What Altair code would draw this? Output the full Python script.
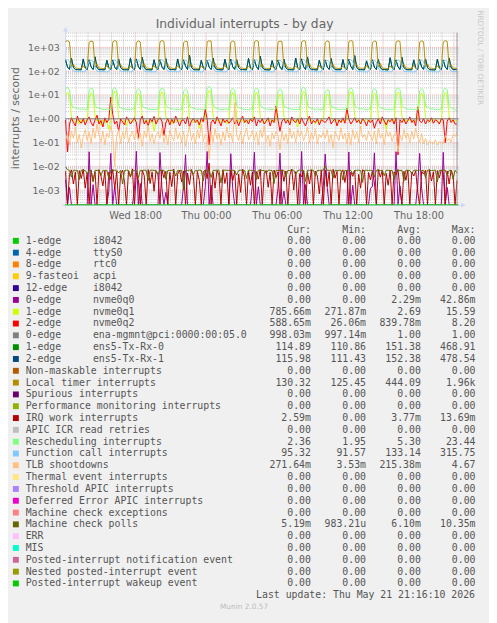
import altair as alt
import pandas as pd

TITLE = "Individual interrupts - by day"
Y_TITLE = "interrupts / second"
WATERMARK = "RRDTOOL / TOBI OETIKER"
LAST_UPDATE = "Last update: Thu May 21 21:16:10 2026"
FOOTER = "Munin 2.0.57"
START = "2026-05-20 12:06"
STEP = "10min"
NOW = "2026-05-21 21:16"
X_LABEL_TIMES = ["2026-05-20 18:00", "2026-05-21 00:00", "2026-05-21 06:00",
                 "2026-05-21 12:00", "2026-05-21 18:00"]
Y_TICKS = [1e-3, 1e-2, 1e-1, 1e0, 1e1, 1e2, 1e3]

# ---------------- legend table ----------------
LEG_A = ["1-edge", "4-edge", "8-edge", "9-fasteoi", "12-edge", "0-edge", "1-edge", "2-edge",
         "0-edge", "1-edge", "2-edge", "Non-maskable interrupts", "Local timer interrupts",
         "Spurious interrupts", "Performance monitoring interrupts", "IRQ work interrupts",
         "APIC ICR read retries", "Rescheduling interrupts", "Function call interrupts",
         "TLB shootdowns", "Thermal event interrupts", "Threshold APIC interrupts",
         "Deferred Error APIC interrupts", "Machine check exceptions", "Machine check polls",
         "ERR", "MIS", "Posted-interrupt notification event", "Nested posted-interrupt event",
         "Posted-interrupt wakeup event"]
LEG_B = ["i8042", "ttyS0", "rtc0", "acpi", "\u00a0i8042", "nvme0q0", "nvme0q1", "nvme0q2",
         "ena-mgmnt@pci:0000:00:05.0", "ens5-Tx-Rx-0", "ens5-Tx-Rx-1"] + [""] * 19
CUR = ["0.00", "0.00", "0.00", "0.00", "0.00", "0.00", "785.66m", "588.65m", "998.03m", "114.89",
       "115.98", "0.00", "130.32", "0.00", "0.00", "2.59m", "0.00", "2.36", "95.32", "271.64m",
       "0.00", "0.00", "0.00", "0.00", "5.19m", "0.00", "0.00", "0.00", "0.00", "0.00"]
MIN = ["0.00", "0.00", "0.00", "0.00", "0.00", "0.00", "271.87m", "26.06m", "997.14m", "110.86",
       "111.43", "0.00", "125.45", "0.00", "0.00", "0.00", "0.00", "1.95", "91.57", "3.53m",
       "0.00", "0.00", "0.00", "0.00", "983.21u", "0.00", "0.00", "0.00", "0.00", "0.00"]
AVG = ["0.00", "0.00", "0.00", "0.00", "0.00", "2.29m", "2.69", "839.78m", "1.00", "151.38",
       "152.38", "0.00", "444.09", "0.00", "0.00", "3.77m", "0.00", "5.30", "133.14", "215.38m",
       "0.00", "0.00", "0.00", "0.00", "6.10m", "0.00", "0.00", "0.00", "0.00", "0.00"]
MAX = ["0.00", "0.00", "0.00", "0.00", "0.00", "42.86m", "15.59", "8.20", "1.00", "468.91",
       "478.54", "0.00", "1.96k", "0.00", "0.00", "13.69m", "0.00", "23.44", "315.75", "4.67",
       "0.00", "0.00", "0.00", "0.00", "10.35m", "0.00", "0.00", "0.00", "0.00", "0.00"]
COLORS = ["#00CC00", "#0066B3", "#FF8000", "#FFCC00", "#330099", "#990099", "#CCFF00", "#FF0000",
          "#808080", "#008F00", "#00487D", "#B35A00", "#B38F00", "#6B006B", "#8FB300", "#B30000",
          "#BEBEBE", "#80FF80", "#80C9FF", "#FFC080", "#FFE680", "#AA80FF", "#EE00CC", "#FF8080",
          "#666600", "#FFBFFF", "#00FFCC", "#CC6699", "#999900", "#00CC00"]

# ---------------- series (10 minute samples from START) ----------------
NVME0Q0 = [
    0.0028, 0.0, 0.0013, 0.0, 0.0, 0.0, 0.0, 0.0, 0.0, 0.0, 0.0, 0.0,
    0.041, 0.0, 0.0017, 0.0, 0.0, 0.0, 0.0, 0.0, 0.0, 0.0, 0.0009, 0.035,
    0.0, 0.0014, 0.0, 0.0, 0.0, 0.0, 0.0, 0.0, 0.0, 0.0, 0.0, 0.0011,
    0.043, 0.0, 0.0019, 0.0, 0.0, 0.0, 0.0, 0.0, 0.0, 0.0, 0.0, 0.0,
    0.038, 0.0012, 0.0, 0.0008, 0.0, 0.0, 0.0, 0.0, 0.0, 0.0, 0.0, 0.0,
    0.0015, 0.031, 0.0, 0.0, 0.0, 0.0, 0.0, 0.0, 0.0, 0.0, 0.0, 0.0013,
    0.042, 0.0, 0.0016, 0.0, 0.0, 0.0, 0.0, 0.0, 0.0, 0.0, 0.0, 0.0,
    0.034, 0.0011, 0.0, 0.0, 0.0, 0.0, 0.0, 0.0, 0.0, 0.0, 0.0, 0.0018,
    0.039, 0.0, 0.0014, 0.0, 0.0, 0.0, 0.0, 0.0, 0.0, 0.0, 0.0, 0.0,
    0.0012, 0.036, 0.0, 0.0009, 0.0, 0.0, 0.0, 0.0, 0.0, 0.0, 0.0, 0.0,
    0.042, 0.0, 0.0017, 0.0, 0.0, 0.0, 0.0, 0.0, 0.0, 0.0, 0.0, 0.0014,
    0.033, 0.0013, 0.0, 0.0, 0.0, 0.0, 0.0, 0.0, 0.0, 0.0, 0.0, 0.0,
    0.040, 0.0, 0.0016, 0.0, 0.0, 0.0, 0.0, 0.0, 0.0, 0.0, 0.0, 0.0012,
    0.0014, 0.037, 0.0, 0.0, 0.0, 0.0, 0.0, 0.0, 0.0, 0.0, 0.0, 0.0,
    0.041, 0.0, 0.0015, 0.0, 0.0, 0.0, 0.0, 0.0, 0.0, 0.0, 0.0, 0.0017,
    0.035, 0.0012, 0.0, 0.0, 0.0, 0.0, 0.0, 0.0, 0.0, 0.0, 0.0, 0.0,
    0.039, 0.0, 0.0013, 0.0, 0.0, 0.0, 0.0, 0.0]
NVME0Q1 = [
    9.5, 13.0, 10.5, 1.2, 0.85, 0.7, 0.95, 0.6, 0.9, 0.75, 0.85, 0.8,
    8.0, 12.0, 9.8, 1.3, 0.8, 0.95, 0.55, 0.9, 0.7, 0.85, 0.35, 0.9,
    9.0, 14.5, 11.0, 1.1, 0.9, 0.75, 0.9, 0.5, 0.95, 0.8, 0.7, 0.85,
    7.5, 11.5, 9.5, 1.25, 0.7, 0.9, 0.8, 0.65, 0.9, 0.3, 0.85, 0.9,
    8.5, 13.5, 10.0, 1.2, 0.9, 0.85, 0.6, 0.95, 0.75, 0.9, 0.8, 0.85,
    7.0, 10.5, 8.8, 1.15, 0.8, 0.7, 0.9, 0.85, 0.4, 0.9, 0.75, 0.9,
    10.0, 15.6, 12.0, 1.3, 0.9, 0.8, 0.95, 0.7, 0.9, 0.85, 0.6, 0.8,
    8.0, 12.5, 10.2, 1.2, 0.75, 0.9, 0.8, 0.9, 0.65, 0.9, 0.85, 0.9,
    8.5, 13.0, 9.5, 1.1, 0.9, 0.6, 0.9, 0.8, 0.95, 0.7, 0.9, 0.85,
    7.5, 11.0, 9.0, 1.25, 0.85, 0.9, 0.7, 0.95, 0.8, 0.9, 0.45, 0.9,
    9.0, 14.0, 11.5, 1.2, 0.8, 0.9, 0.85, 0.6, 0.9, 0.8, 0.9, 0.85,
    7.0, 10.8, 9.2, 1.15, 0.9, 0.75, 0.9, 0.85, 0.7, 0.9, 0.8, 0.9,
    8.5, 13.5, 10.8, 1.3, 0.85, 0.9, 0.6, 0.9, 0.85, 0.95, 0.75, 0.85,
    8.0, 12.0, 9.6, 1.2, 0.9, 0.8, 0.9, 0.35, 0.9, 0.85, 0.9, 0.8,
    8.5, 13.2, 10.4, 1.25, 0.75, 0.9, 0.85, 0.9, 0.8, 0.7, 0.9, 0.9,
    7.5, 11.8, 9.4, 1.15, 0.9, 0.85, 0.75, 0.9, 0.95, 0.85, 0.65, 0.85,
    8.0, 12.6, 10.0, 1.2, 0.9, 0.8, 0.85, 0.79]
NVME0Q2 = [
    0.9, 0.04, 0.6, 1.1, 0.7, 0.5, 1.3, 0.8, 0.65, 1.0, 0.55, 0.9,
    1.2, 0.7, 0.5, 0.9, 1.4, 0.6, 0.85, 0.45, 1.1, 0.7, 0.95, 8.2,
    1.5, 0.6, 0.8, 0.3, 1.0, 0.75, 0.55, 1.2, 0.9, 0.6, 0.8, 1.1,
    0.7, 0.15, 0.9, 1.3, 0.6, 0.85, 0.5, 1.0, 0.75, 1.25, 0.6, 0.9,
    1.1, 0.8, 0.2, 0.7, 1.0, 0.55, 0.95, 0.65, 1.3, 0.8, 0.5, 0.85,
    0.9, 0.6, 1.2, 0.45, 0.8, 1.0, 0.7, 0.9, 0.55, 1.1, 0.75, 2.5,
    1.0, 0.08, 0.7, 0.9, 0.6, 1.2, 0.8, 0.5, 1.0, 0.7, 0.9, 0.65,
    0.8, 1.1, 0.6, 0.9, 0.5, 0.85, 1.3, 0.7, 0.9, 0.6, 1.0, 0.75,
    1.2, 0.5, 0.9, 0.7, 1.0, 0.6, 0.8, 1.1, 0.5, 0.9, 0.7, 3.5,
    0.9, 0.3, 0.8, 1.0, 0.65, 0.9, 0.55, 1.2, 0.8, 0.7, 1.0, 0.6,
    1.1, 0.7, 0.5, 0.9, 1.3, 0.6, 0.85, 0.7, 1.0, 0.55, 0.9, 0.8,
    0.7, 0.9, 1.2, 0.6, 0.8, 1.0, 0.5, 0.9, 0.7, 1.1, 0.65, 2.8,
    1.0, 0.6, 0.8, 1.1, 0.7, 0.9, 0.6, 1.0, 0.8, 0.5, 0.9, 0.7,
    0.9, 0.4, 0.7, 1.0, 0.6, 1.2, 0.8, 0.55, 0.9, 0.75, 1.0, 0.6,
    1.1, 0.03, 0.9, 0.7, 1.0, 0.6, 0.85, 1.2, 0.7, 0.9, 0.5, 3.2,
    0.8, 0.7, 1.0, 0.6, 0.9, 0.75, 1.1, 0.65, 0.9, 0.8, 0.6, 1.0,
    0.9, 0.1, 0.8, 1.1, 0.7, 0.9, 0.6, 0.59]
ENA_MGMNT = [1.0]
ENS5_0 = [
    290, 148, 119, 360, 142, 117, 116, 115, 114, 320, 136, 116,
    310, 152, 118, 410, 139, 116, 117, 114, 115, 280, 141, 117,
    285, 146, 117, 330, 144, 118, 115, 115, 113, 350, 137, 116,
    320, 155, 119, 390, 140, 117, 116, 114, 115, 300, 139, 118,
    295, 149, 118, 340, 143, 116, 117, 116, 114, 325, 138, 117,
    305, 160, 117, 469, 145, 117, 115, 115, 113, 290, 140, 116,
    280, 147, 118, 355, 138, 118, 116, 114, 115, 310, 142, 117,
    315, 151, 119, 300, 141, 116, 117, 115, 114, 345, 137, 116,
    290, 156, 118, 425, 144, 117, 115, 113, 115, 275, 139, 118,
    300, 148, 117, 315, 140, 116, 116, 115, 114, 355, 143, 117,
    325, 153, 118, 395, 137, 117, 117, 114, 113, 285, 141, 116,
    285, 150, 119, 335, 142, 118, 115, 116, 115, 305, 138, 117,
    310, 158, 118, 445, 145, 116, 116, 115, 114, 270, 140, 118,
    295, 146, 117, 310, 139, 117, 117, 114, 113, 365, 142, 116,
    305, 152, 118, 380, 143, 118, 116, 115, 115, 295, 137, 117,
    290, 149, 119, 325, 141, 116, 115, 113, 114, 315, 139, 116,
    300, 151, 118, 350, 140, 117, 117, 115]
ENS5_1 = [
    305, 150, 120, 345, 145, 118, 117, 116, 115, 330, 138, 117,
    295, 149, 119, 395, 141, 117, 118, 115, 116, 290, 143, 118,
    300, 148, 118, 320, 146, 119, 116, 116, 114, 365, 139, 117,
    330, 158, 120, 375, 142, 118, 117, 115, 116, 305, 141, 119,
    310, 151, 119, 335, 145, 117, 118, 117, 115, 330, 140, 118,
    290, 163, 118, 478, 147, 118, 116, 116, 114, 285, 142, 117,
    295, 149, 119, 360, 140, 119, 117, 115, 116, 320, 144, 118,
    320, 154, 120, 310, 143, 117, 118, 116, 115, 340, 139, 117,
    305, 159, 119, 430, 146, 118, 116, 114, 116, 280, 141, 119,
    290, 150, 118, 325, 142, 117, 117, 116, 115, 360, 145, 118,
    335, 156, 119, 400, 139, 118, 118, 115, 114, 290, 143, 117,
    300, 152, 120, 345, 144, 119, 116, 117, 116, 310, 140, 118,
    315, 161, 119, 455, 147, 117, 117, 116, 115, 275, 142, 119,
    305, 148, 118, 315, 141, 118, 118, 115, 114, 370, 144, 117,
    290, 155, 119, 385, 145, 119, 117, 116, 116, 300, 139, 118,
    310, 151, 120, 330, 143, 117, 116, 114, 115, 320, 141, 117,
    295, 153, 119, 350, 142, 118, 118, 116]
LOCAL_TIMER = [
    1780, 1910, 1700, 150, 196, 136, 133, 131, 133, 168, 130, 137,
    1650, 1850, 1760, 148, 205, 135, 134, 130, 134, 172, 129, 136,
    1700, 1930, 1820, 155, 188, 133, 135, 132, 131, 165, 130, 138,
    1620, 1880, 1690, 150, 210, 136, 134, 131, 133, 175, 128, 135,
    1720, 1960, 1790, 158, 192, 134, 137, 130, 132, 170, 131, 139,
    1600, 1820, 1740, 149, 198, 133, 135, 131, 134, 163, 130, 136,
    1750, 1900, 1850, 153, 215, 135, 134, 129, 133, 178, 132, 137,
    1640, 1870, 1710, 151, 190, 134, 136, 130, 131, 166, 130, 138,
    1730, 1940, 1800, 156, 202, 132, 133, 131, 134, 171, 129, 135,
    1660, 1860, 1770, 150, 194, 135, 137, 132, 133, 169, 131, 136,
    1710, 1920, 1830, 154, 208, 133, 134, 130, 132, 174, 130, 139,
    1630, 1890, 1720, 149, 197, 136, 135, 131, 133, 164, 128, 137,
    1740, 1950, 1810, 157, 189, 134, 136, 132, 134, 172, 131, 136,
    1610, 1840, 1760, 151, 212, 135, 133, 130, 131, 167, 130, 138,
    1690, 1910, 1790, 155, 196, 133, 137, 131, 133, 176, 129, 135,
    1650, 1880, 1740, 150, 203, 134, 135, 130, 132, 168, 131, 137,
    1700, 1930, 1800, 152, 191, 133, 134, 130]
IRQ_WORK = [
    0.0062, 0.0, 0.0045, 0.0071, 0.0018, 0.0058, 0.0, 0.0066, 0.0031, 0.0075, 0.0012, 0.0053,
    0.0, 0.0068, 0.0024, 0.0059, 0.0, 0.0072, 0.0039, 0.0015, 0.0064, 0.0, 0.0057, 0.0028,
    0.0074, 0.0011, 0.0061, 0.0, 0.0049, 0.0069, 0.0021, 0.0, 0.0063, 0.0035, 0.0078, 0.0,
    0.0055, 0.0027, 0.0, 0.0067, 0.0041, 0.0, 0.0073, 0.0019, 0.0058, 0.0009, 0.0065, 0.0044,
    0.0, 0.0071, 0.0033, 0.0062, 0.0, 0.0056, 0.0014, 0.0076, 0.0, 0.0048, 0.0068, 0.0022,
    0.0064, 0.0, 0.0052, 0.0017, 0.0073, 0.0038, 0.0, 0.0061, 0.0026, 0.0, 0.0059, 0.0070,
    0.0031, 0.0137, 0.0, 0.0057, 0.0012, 0.0066, 0.0043, 0.0, 0.0072, 0.0019, 0.0054, 0.0,
    0.0069, 0.0025, 0.0063, 0.0, 0.0047, 0.0008, 0.0075, 0.0036, 0.0, 0.0062, 0.0016, 0.0058,
    0.0, 0.0060, 0.0029, 0.0074, 0.0, 0.0051, 0.0067, 0.0013, 0.0056, 0.0, 0.0070, 0.0034,
    0.0058, 0.0, 0.0071, 0.0023, 0.0064, 0.0, 0.0042, 0.0077, 0.0010, 0.0060, 0.0, 0.0049,
    0.0036, 0.0066, 0.0, 0.0055, 0.0018, 0.0073, 0.0, 0.0063, 0.0040, 0.0007, 0.0068, 0.0,
    0.0070, 0.0014, 0.0059, 0.0, 0.0075, 0.0032, 0.0061, 0.0, 0.0052, 0.0071, 0.0021, 0.0065,
    0.0, 0.0057, 0.0038, 0.0069, 0.0, 0.0046, 0.0012, 0.0072, 0.0060, 0.0, 0.0055, 0.0027,
    0.0063, 0.0020, 0.0, 0.0074, 0.0035, 0.0067, 0.0, 0.0050, 0.0016, 0.0069, 0.0, 0.0058,
    0.0044, 0.0072, 0.0011, 0.0, 0.0062, 0.0026, 0.0070, 0.0, 0.0057, 0.0039, 0.0065, 0.0008,
    0.0, 0.0061, 0.0047, 0.0068, 0.0, 0.0073, 0.0024, 0.0059, 0.0, 0.0066, 0.0033, 0.0071,
    0.0052, 0.0, 0.0064, 0.0018, 0.0070, 0.0041, 0.0, 0.0026]
RESCHED = [
    18.5, 21.0, 16.5, 3.8, 3.1, 2.9, 2.7, 2.6, 2.5, 2.6, 2.4, 2.5,
    16.0, 19.5, 17.2, 3.5, 3.0, 2.8, 2.6, 2.5, 2.4, 2.6, 2.5, 2.4,
    17.0, 20.5, 16.0, 3.6, 2.9, 2.7, 2.6, 2.4, 2.5, 2.4, 2.6, 2.5,
    15.0, 18.0, 15.5, 3.4, 3.0, 2.8, 2.5, 2.6, 2.4, 2.5, 2.4, 2.6,
    16.5, 19.0, 17.5, 3.7, 3.1, 2.7, 2.6, 2.5, 2.5, 2.4, 2.5, 2.4,
    14.5, 17.5, 15.0, 3.3, 2.9, 2.8, 2.6, 2.4, 2.6, 2.5, 2.4, 2.5,
    19.0, 23.4, 18.5, 3.8, 3.0, 2.7, 2.5, 2.5, 2.4, 2.6, 2.5, 2.4,
    15.5, 18.5, 16.0, 3.5, 2.9, 2.8, 2.6, 2.4, 2.5, 2.4, 2.6, 2.5,
    16.0, 19.5, 17.0, 3.6, 3.1, 2.7, 2.5, 2.6, 2.4, 2.5, 2.4, 2.6,
    15.0, 18.0, 15.5, 3.4, 3.0, 2.8, 2.6, 2.5, 2.5, 2.4, 2.5, 2.4,
    18.0, 21.5, 17.5, 3.7, 2.9, 2.7, 2.6, 2.4, 2.6, 2.5, 2.4, 2.5,
    14.0, 17.0, 15.0, 3.3, 3.0, 2.8, 2.5, 2.5, 2.4, 2.6, 2.5, 2.4,
    16.5, 19.5, 16.5, 3.6, 3.1, 2.7, 2.6, 2.6, 2.5, 2.4, 2.6, 2.5,
    15.5, 18.5, 16.0, 3.5, 2.9, 2.8, 2.6, 2.4, 2.4, 2.5, 2.4, 2.6,
    17.0, 20.0, 17.0, 3.7, 3.0, 2.7, 2.5, 2.5, 2.5, 2.4, 2.5, 2.4,
    15.0, 18.0, 15.5, 3.4, 3.1, 2.8, 2.6, 2.6, 2.4, 2.5, 2.4, 2.5,
    16.0, 19.0, 16.5, 3.5, 2.9, 2.7, 2.4, 2.36]
FUNC_CALL = [
    280, 305, 255, 135, 101, 98, 96, 95, 96, 94, 97, 165,
    265, 290, 248, 140, 100, 99, 97, 96, 95, 94, 96, 172,
    255, 298, 260, 132, 99, 97, 96, 95, 96, 93, 95, 160,
    270, 285, 245, 138, 101, 98, 96, 94, 95, 94, 96, 175,
    262, 315, 262, 136, 100, 99, 97, 95, 96, 95, 94, 168,
    258, 288, 250, 134, 99, 98, 97, 96, 95, 93, 95, 162,
    268, 300, 258, 139, 101, 97, 98, 95, 94, 94, 96, 178,
    255, 282, 247, 133, 100, 99, 96, 95, 96, 95, 95, 166,
    272, 308, 255, 137, 99, 98, 97, 94, 95, 93, 96, 170,
    257, 292, 252, 135, 101, 97, 98, 96, 96, 94, 95, 163,
    266, 302, 261, 140, 100, 99, 97, 95, 95, 95, 94, 174,
    259, 286, 249, 133, 99, 98, 96, 95, 96, 94, 96, 167,
    271, 310, 257, 138, 101, 97, 98, 94, 95, 93, 95, 171,
    263, 284, 246, 134, 100, 99, 97, 96, 96, 95, 96, 164,
    256, 296, 259, 139, 99, 98, 98, 95, 94, 94, 95, 173,
    267, 292, 253, 135, 101, 97, 96, 95, 96, 93, 96, 169,
    261, 298, 256, 136, 100, 98, 96, 95]
TLB = [
    0.12, 0.25, 0.08, 0.3, 0.15, 0.45, 0.1, 0.22, 0.06, 0.18, 0.35, 0.12,
    0.28, 0.09, 0.4, 0.15, 0.6, 0.2, 0.11, 0.3, 0.08, 0.25, 0.16, 0.5,
    0.22, 0.01, 0.18, 0.35, 0.09, 0.28, 0.14, 0.45, 0.1, 0.2, 0.3, 0.13,
    0.35, 0.12, 0.25, 0.07, 0.3, 0.16, 0.55, 0.11, 0.24, 0.09, 0.2, 0.28,
    0.15, 0.4, 0.1, 0.22, 0.08, 0.33, 0.18, 0.12, 0.42, 0.14, 0.26, 0.1,
    0.3, 0.07, 0.2, 0.5, 0.12, 0.25, 0.09, 0.35, 0.15, 0.6, 0.11, 0.22,
    0.18, 0.02, 0.3, 0.1, 0.38, 0.14, 0.24, 0.08, 0.28, 0.12, 0.45, 0.16,
    0.25, 0.1, 4.67, 0.2, 0.12, 0.3, 0.09, 0.22, 0.4, 0.13, 0.18, 0.32,
    0.12, 0.28, 0.08, 0.35, 0.16, 0.5, 0.11, 0.2, 0.07, 0.26, 0.14, 0.3,
    0.2, 0.05, 0.32, 0.12, 0.24, 0.09, 0.4, 0.15, 0.28, 0.1, 0.35, 0.18,
    0.3, 0.12, 0.2, 0.45, 0.1, 0.26, 0.14, 0.38, 0.09, 0.22, 0.16, 0.27,
    0.15, 0.35, 0.1, 0.22, 0.06, 0.3, 0.18, 0.12, 0.42, 0.14, 0.25, 0.09,
    0.26, 0.08, 0.35, 0.14, 0.28, 0.1, 0.5, 0.16, 0.22, 0.12, 0.3, 0.2,
    0.12, 0.3, 0.09, 0.4, 0.15, 0.24, 0.08, 0.33, 0.18, 0.27, 0.11, 0.21,
    0.28, 0.04, 0.2, 0.12, 0.36, 0.15, 0.25, 0.1, 0.3, 0.14, 0.4, 0.17,
    0.1, 0.24, 0.09, 0.15, 0.08, 0.12, 0.1, 0.09, 0.13, 0.08, 0.11, 0.1,
    0.09, 0.2, 0.12, 0.15, 0.1, 0.22, 0.18, 0.27]
MC_POLLS = [
    0.0095, 0.0072, 0.0068, 0.0035, 0.0069, 0.0067, 0.0068, 0.0028, 0.0069, 0.0068, 0.0067, 0.0048,
    0.0068, 0.0069, 0.0022, 0.0068, 0.0067, 0.0069, 0.0041, 0.0068, 0.0067, 0.0068, 0.0030, 0.0069,
    0.0067, 0.0068, 0.0069, 0.0052, 0.0068, 0.0018, 0.0067, 0.0069, 0.0068, 0.0037, 0.0068, 0.0067,
    0.0069, 0.0033, 0.0068, 0.0067, 0.0069, 0.0068, 0.0025, 0.0068, 0.0069, 0.0067, 0.0068, 0.0045,
    0.0068, 0.0067, 0.0069, 0.0029, 0.0068, 0.0067, 0.0068, 0.0069, 0.0039, 0.0068, 0.0067, 0.0069,
    0.0010, 0.0068, 0.0067, 0.0069, 0.0068, 0.0046, 0.0068, 0.0067, 0.0069, 0.0068, 0.0024, 0.0068,
    0.0067, 0.0069, 0.0034, 0.0068, 0.0067, 0.0069, 0.0068, 0.0020, 0.0067, 0.0069, 0.0068, 0.0067,
    0.0069, 0.0068, 0.0067, 0.0043, 0.0068, 0.0069, 0.0067, 0.0068, 0.0031, 0.0069, 0.0068, 0.0067,
    0.0068, 0.0027, 0.0069, 0.0068, 0.0067, 0.0068, 0.0050, 0.0069, 0.0068, 0.0067, 0.0019, 0.0068,
    0.0067, 0.0068, 0.0069, 0.0067, 0.0036, 0.0068, 0.0067, 0.0069, 0.0068, 0.0044, 0.0067, 0.0069,
    0.0068, 0.0067, 0.0023, 0.0069, 0.0068, 0.0067, 0.0069, 0.0038, 0.0068, 0.0067, 0.0069, 0.0068,
    0.0104, 0.0068, 0.0067, 0.0069, 0.0032, 0.0068, 0.0067, 0.0068, 0.0069, 0.0026, 0.0068, 0.0067,
    0.0069, 0.0068, 0.0047, 0.0067, 0.0068, 0.0069, 0.0067, 0.0021, 0.0068, 0.0069, 0.0067, 0.0068,
    0.0067, 0.0035, 0.0068, 0.0069, 0.0067, 0.0068, 0.0040, 0.0069, 0.0068, 0.0067, 0.0068, 0.0028,
    0.0068, 0.0069, 0.0067, 0.0068, 0.0024, 0.0069, 0.0068, 0.0067, 0.0049, 0.0068, 0.0069, 0.0067,
    0.0069, 0.0067, 0.0068, 0.0033, 0.0069, 0.0068, 0.0067, 0.0068, 0.0069, 0.0022, 0.0068, 0.0067,
    0.0068, 0.0069, 0.0042, 0.0067, 0.0068, 0.0029, 0.0068, 0.0052]
ZERO_VALUE = [0.0]

# draw order = legend order; (values, legend row)
SERIES = [(NVME0Q0, 5), (NVME0Q1, 6), (NVME0Q2, 7), (ENS5_0, 9), (ENS5_1, 10),
          (LOCAL_TIMER, 12), (IRQ_WORK, 15), (RESCHED, 17), (FUNC_CALL, 18),
          (TLB, 19), (MC_POLLS, 24)]

# ---------------- styling ----------------
BG = "#F0F0F0"
FONT = "DejaVu Sans"
MONO = "DejaVu Sans Mono"
TXT = "#666666"
LEG_TXT = "#555555"
AXIS_COL = "#CFD6F8"
W, H = 400, 175
FLOOR = 10 ** -3.62
CEIL = 10 ** 3.62

xscale = alt.Scale(domain=[alt.DateTime(year=2026, month=5, date=20, hours=12, minutes=3, seconds=30),
                           alt.DateTime(year=2026, month=5, date=21, hours=21, minutes=23, seconds=30)])
yscale = alt.Scale(type="log", domain=[FLOOR, CEIL])
times = pd.date_range(START, periods=200, freq=STEP)


def dt(s):
    t = pd.Timestamp(s)
    return alt.DateTime(year=t.year, month=t.month, date=t.day, hours=t.hour, minutes=t.minute)


layers = []

# vertical grid: hourly minor, 3-hourly major
hours = pd.date_range("2026-05-20 13:00", "2026-05-21 21:00", freq="1h")
vg = pd.DataFrame({"t": hours, "major": [h.hour % 3 == 0 for h in hours]})
layers.append(alt.Chart(vg[~vg.major]).mark_rule(color="#c4c4c4", strokeDash=[1, 1], strokeWidth=1).encode(
    x=alt.X("t:T", scale=xscale, axis=alt.Axis(
        values=[dt(s) for s in X_LABEL_TIMES], format="%a %H:%M", labelFont=FONT, labelFontSize=10,
        labelColor=TXT, grid=False, ticks=False, domain=False, labelPadding=6, title=None,
        labelFlush=False, labelOverlap=False))))
layers.append(alt.Chart(vg[vg.major]).mark_rule(color="#eba3a3", strokeDash=[1, 1], strokeWidth=1).encode(
    x=alt.X("t:T", scale=xscale)))

# horizontal grid
minor_vals = [m * 10.0 ** k for k in range(-4, 4) for m in range(2, 10) if FLOOR < m * 10.0 ** k < CEIL]
layers.append(alt.Chart(pd.DataFrame({"v": minor_vals})).mark_rule(
    color="#c4c4c4", strokeDash=[1, 1], strokeWidth=1).encode(
    y=alt.Y("v:Q", scale=yscale, axis=alt.Axis(
        values=Y_TICKS, labelFont=FONT, labelFontSize=9.6, labelColor=TXT, grid=False, ticks=False,
        domain=False, labelPadding=6, title=None, labelFlush=False, labelOverlap=False,
        labelExpr="replace(replace(format(datum.value, '.0e'), 'e+', 'e+0'), 'e-', 'e-0')"))))
layers.append(alt.Chart(pd.DataFrame({"v": Y_TICKS})).mark_rule(
    color="#eba3a3", strokeDash=[1, 1], strokeWidth=1).encode(y=alt.Y("v:Q", scale=yscale, axis=None)))

# axis lines and arrows
one = pd.DataFrame({"k": [0]})
layers.append(alt.Chart(one).mark_rule(color=AXIS_COL, strokeWidth=1).encode(
    x=alt.value(0.5), y=alt.value(178), y2=alt.value(-3)))
layers.append(alt.Chart(one).mark_rule(color=AXIS_COL, strokeWidth=1).encode(
    x=alt.value(-3), x2=alt.value(405), y=alt.value(175.5)))
layers.append(alt.Chart(one).mark_point(shape="triangle-up", filled=True, size=26, color=AXIS_COL, opacity=1).encode(
    x=alt.value(0.5), y=alt.value(-3.5)))
layers.append(alt.Chart(one).mark_point(shape="triangle-right", filled=True, size=26, color=AXIS_COL, opacity=1).encode(
    x=alt.value(405), y=alt.value(175.5)))


def line_layer(vals, color):
    df = pd.DataFrame({"t": times[:len(vals)], "v": vals[:len(times)]})
    return alt.Chart(df).transform_calculate(vv=f"max(datum.v, {FLOOR})").mark_line(
        color=color, strokeWidth=1, clip=True).encode(
        x=alt.X("t:T", scale=xscale), y=alt.Y("vv:Q", scale=yscale, axis=None))


for vals, row in SERIES[:3]:
    layers.append(line_layer(vals, COLORS[row]))
# constant ena-mgmnt line at 1.0
layers.append(alt.Chart(pd.DataFrame({"v": ENA_MGMNT})).mark_rule(color=COLORS[8], strokeWidth=1).encode(
    y=alt.Y("v:Q", scale=yscale, axis=None)))
for vals, row in SERIES[3:]:
    layers.append(line_layer(vals, COLORS[row]))
# all-zero series sit on the bottom edge
layers.append(alt.Chart(pd.DataFrame({"v": ZERO_VALUE})).transform_calculate(
    vv=f"max(datum.v, {FLOOR})").mark_rule(color=COLORS[29], strokeWidth=1).encode(
    y=alt.Y("vv:Q", scale=yscale, axis=None)))

# "now" marker
layers.append(alt.Chart(pd.DataFrame({"t": [pd.Timestamp(NOW)]})).mark_rule(color="#909090", strokeWidth=1).encode(
    x=alt.X("t:T", scale=xscale)))

# titles
layers.append(alt.Chart(one).mark_text(text=TITLE, font=FONT, fontSize=12.5, color=TXT, align="center",
                                       baseline="middle").encode(x=alt.value(182.5), y=alt.value(-8.5)))
layers.append(alt.Chart(one).mark_text(text=Y_TITLE, font=FONT, fontSize=11, color=TXT, align="center",
                                       baseline="middle", angle=270).encode(x=alt.value(-49.5), y=alt.value(87)))
layers.append(alt.Chart(one).mark_text(text=WATERMARK, font=FONT, fontSize=7.5, color="#c8c8c8",
                                       align="center", baseline="middle", angle=90).encode(
    x=alt.value(421.5), y=alt.value(25.5)))

# legend table
def suffix(s):
    return s if s[-1].isalpha() else s + "\u00a0"


leg = pd.DataFrame({"row": list(range(len(LEG_A))), "a": LEG_A, "b": LEG_B,
                    "cur": [suffix(s) for s in CUR], "mn": [suffix(s) for s in MIN],
                    "avg": [suffix(s) for s in AVG], "mx": [suffix(s) for s in MAX], "col": COLORS})
ly = alt.Y("row:Q", scale=alt.Scale(domain=[0, 29], range=[211.6, 559.9]), axis=None)
lbase = alt.Chart(leg)
layers.append(lbase.mark_square(size=36, opacity=1).encode(
    x=alt.value(-50), y=ly, color=alt.Color("col:N", scale=None, legend=None)))
txt = dict(font=MONO, fontSize=10, color=LEG_TXT, baseline="middle")
layers.append(lbase.mark_text(align="left", **txt).encode(x=alt.value(-40), y=ly, text="a:N"))
layers.append(lbase.mark_text(align="left", **txt).encode(x=alt.value(28.3), y=ly, text="b:N"))
for fld, xr in [("cur", 250), ("mn", 306), ("avg", 361.7), ("mx", 417.3)]:
    layers.append(lbase.mark_text(align="right", **txt).encode(x=alt.value(xr), y=ly, text=f"{fld}:N"))

HEADERS = ["Cur:", "Min:", "Avg:", "Max:"]
for h, xr in zip(HEADERS, [250, 306, 361.7, 417.3]):
    layers.append(alt.Chart(one).mark_text(text=h + "\u00a0", align="right", **txt).encode(
        x=alt.value(xr), y=alt.value(200.6)))
layers.append(alt.Chart(one).mark_text(text=LAST_UPDATE, align="right", **txt).encode(
    x=alt.value(416.8), y=alt.value(571.6)))
layers.append(alt.Chart(one).mark_text(text=FOOTER, font=FONT, fontSize=7.5, color="#bbbbbb",
                                       align="center", baseline="middle").encode(
    x=alt.value(182), y=alt.value(584)))

chart = alt.layer(*layers).resolve_scale(y="independent").properties(
    width=W, height=H,
    autosize=alt.AutoSizeParams(type="none"),
    padding={"left": 58, "top": 20, "right": 31, "bottom": 420},
    background=BG,
).configure_view(fill="white", stroke=None)

chart.save("out.html", embed_options={"renderer": "svg", "actions": False})
